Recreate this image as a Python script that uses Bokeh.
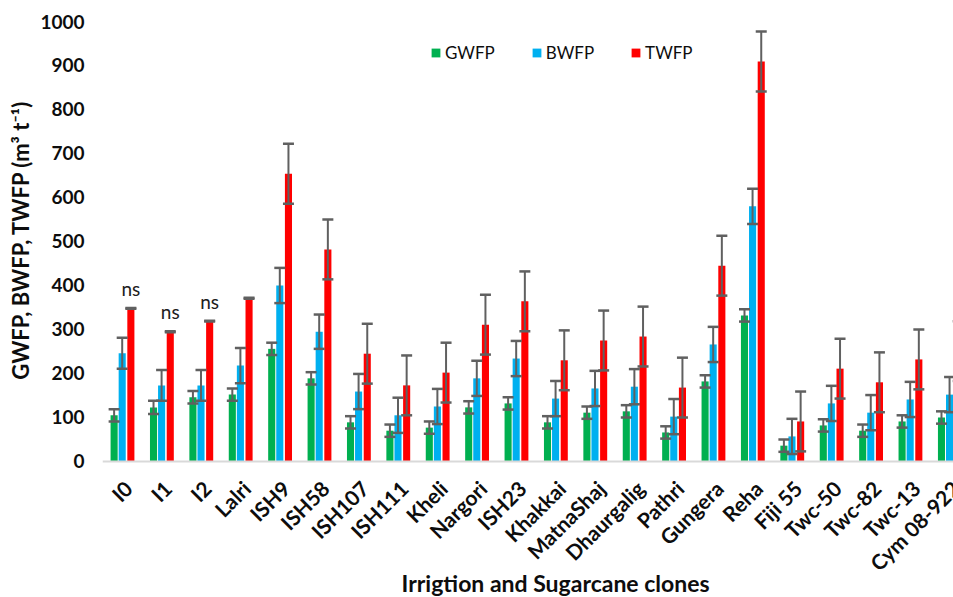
import numpy as np
from bokeh.plotting import figure
from bokeh.models import (Range1d, FixedTicker, ColumnDataSource, Whisker, TeeHead,
                          Legend, LegendItem, Title, Span, Label)
from bokeh.transform import dodge
from bokeh.core.properties import value
from bokeh.embed import file_html
from bokeh.resources import INLINE

categories = ["I0", "I1", "I2", "Lalri", "ISH9", "ISH58", "ISH107", "ISH111", "Kheli",
              "Nargori", "ISH23", "Khakkai", "MatnaShaj", "Dhaurgalig", "Pathri",
              "Gungera", "Reha", "Fiji 55", "Twc-50", "Twc-82", "Twc-13", "Cym 08-922"]
gwfp = [105, 123, 146, 152, 256, 189, 89, 70, 77, 123, 132, 89, 111, 114, 66, 182, 332,
        36, 82, 70, 91, 100]
gwfp_err = [14, 15, 14, 14, 14, 14, 14, 14, 14, 14, 14, 14, 14, 14, 14, 14, 14, 14, 14,
            14, 14, 14]
bwfp = [246, 173, 173, 218, 400, 295, 159, 105, 125, 189, 234, 143, 166, 170, 102, 266,
        580, 57, 132, 111, 141, 152]
bwfp_err = [35, 35, 35, 40, 40, 39, 40, 40, 40, 40, 40, 40, 40, 40, 40, 40, 40, 40, 40,
            40, 40, 40]
twfp = [348, 295, 319, 371, 654, 482, 245, 173, 202, 311, 364, 230, 275, 284, 168, 445,
        909, 91, 211, 180, 232, 251]
twfp_err = [1, 1, 1, 1, 68, 68, 68, 68, 68, 68, 68, 68, 68, 68, 68, 68, 68, 68, 68, 68,
            68, 68]
ns_marks = ["ns", "ns", "ns", "", "", "", "", "", "", "", "", "", "", "", "", "", "",
            "", "", "", "", ""]
y_ticks = [0, 100, 200, 300, 400, 500, 600, 700, 800, 900, 1000]

GREEN, BLUE, RED = "#00B050", "#00B0F0", "#FF0000"
ERR = "#606060"
TXT = "#0d0d0d"
FONT = "Lato"

x = list(range(len(categories)))
src = ColumnDataSource(dict(
    x=x, cat=categories, g=gwfp, b=bwfp, t=twfp,
    g_hi=[v + e for v, e in zip(gwfp, gwfp_err)], g_lo=[v - e for v, e in zip(gwfp, gwfp_err)],
    b_hi=[v + e for v, e in zip(bwfp, bwfp_err)], b_lo=[v - e for v, e in zip(bwfp, bwfp_err)],
    t_hi=[v + e for v, e in zip(twfp, twfp_err)], t_lo=[v - e for v, e in zip(twfp, twfp_err)],
    ns=ns_marks,
))

# frame spans the full lower part of the page so the rotated category labels can sit in it
p = figure(width=953, height=597, output_backend="svg", toolbar_location=None,
           x_range=Range1d(-0.5, 21.1), y_range=Range1d(-309.1, 1000),
           min_border_left=98, min_border_right=0, min_border_top=21,
           min_border_bottom=0)
p.outline_line_color = None
p.xgrid.visible = False
p.ygrid.visible = False
p.xaxis.visible = False
p.background_fill_color = "white"
p.border_fill_color = "white"

OFF_G, OFF_B, OFF_T = -0.205, 0.0, 0.22
W = 0.18
rg = p.vbar(x=dodge("x", OFF_G, range=p.x_range), top="g", width=W, source=src,
            fill_color=GREEN, line_color=None)
rb = p.vbar(x=dodge("x", OFF_B, range=p.x_range), top="b", width=W, source=src,
            fill_color=BLUE, line_color=None)
rt = p.vbar(x=dodge("x", OFF_T, range=p.x_range), top="t", width=W, source=src,
            fill_color=RED, line_color=None)

for key, off in (("g", OFF_G), ("b", OFF_B), ("t", OFF_T)):
    w = Whisker(base=dodge("x", off, range=p.x_range), upper=key + "_hi", lower=key + "_lo",
                source=src, line_color=ERR, line_width=2, level="annotation",
                upper_head=TeeHead(size=11, line_color=ERR, line_width=2.5),
                lower_head=TeeHead(size=11, line_color=ERR, line_width=2.5))
    p.add_layout(w)

p.text(x=dodge("x", OFF_T, range=p.x_range), y="t", text="ns", source=src,
       text_font=value(FONT), text_font_size="19px", text_align="center",
       text_baseline="middle", y_offset=-20, text_color="#202020")

# category axis: baseline + rotated labels
p.add_layout(Span(location=0, dimension="width", line_color="#D9D9D9", line_width=2))
p.text(x="x", y=0, text="cat", source=src, angle=np.pi / 4,
       x_offset=6, y_offset=23, text_align="right", text_baseline="middle",
       text_font=value(FONT), text_font_style="bold", text_font_size="21px",
       text_color=TXT)
p.add_layout(Label(x=11.0, y=-277, text="Irrigtion and Sugarcane clones",
                   text_font=FONT, text_font_style="bold", text_font_size="23px",
                   text_align="center", text_baseline="middle", text_color=TXT))

# value axis
p.yaxis.ticker = FixedTicker(ticks=y_ticks)
p.yaxis.axis_line_color = None
p.yaxis.major_tick_line_color = None
p.yaxis.minor_tick_line_color = None
p.yaxis.major_label_text_font = FONT
p.yaxis.major_label_text_font_style = "bold"
p.yaxis.major_label_text_font_size = "19px"
p.yaxis.major_label_text_color = TXT
p.yaxis.major_label_standoff = 12
p.add_layout(Title(text="GWFP, BWFP, TWFP (m\u00b3 t\u207b\u00b9)", align="right", offset=79,
                   text_font=FONT, text_font_style="bold", text_font_size="22px",
                   text_color=TXT, standoff=8), "left")

legend = Legend(items=[LegendItem(label="GWFP", renderers=[rg]),
                       LegendItem(label="BWFP", renderers=[rb]),
                       LegendItem(label="TWFP", renderers=[rt])],
                orientation="horizontal", location=(328, 534),
                glyph_width=11, glyph_height=11, label_standoff=4, spacing=36,
                padding=0, margin=0, border_line_color=None,
                background_fill_alpha=0,
                label_text_font=FONT, label_text_font_size="17px",
                label_text_color=TXT)
p.add_layout(legend, "center")

open("out.html", "w").write(file_html(p, INLINE))
